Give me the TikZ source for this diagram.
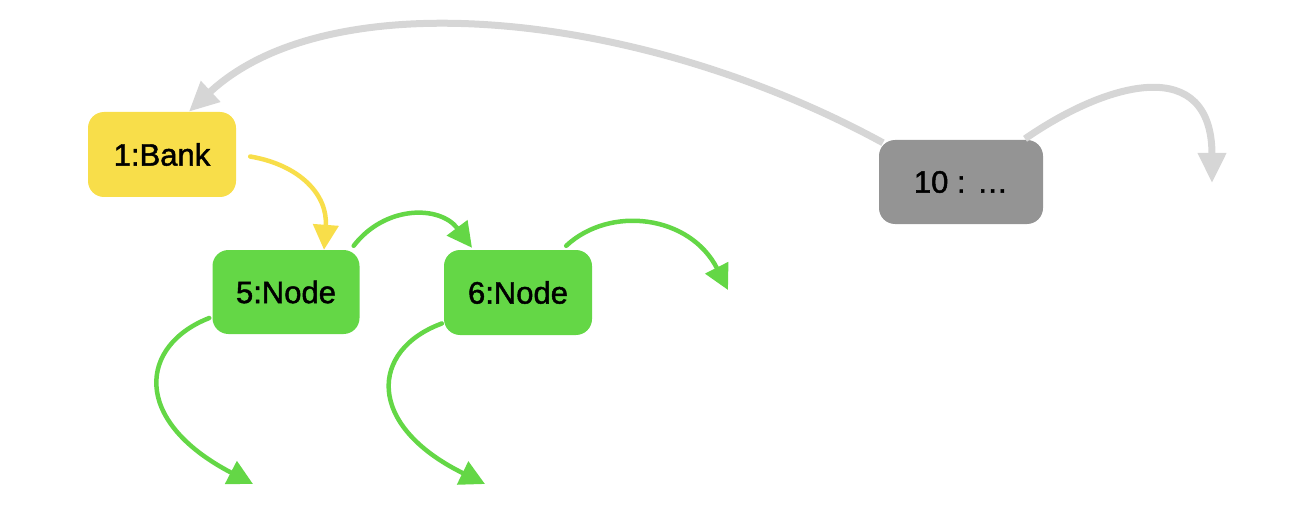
\documentclass[tikz,border=0pt]{standalone}
\usepackage{fontspec}
\setmainfont{Liberation Sans}
\newfontfamily\boxfont[FakeBold=1.5]{Liberation Sans}
\usetikzlibrary{arrows.meta,calc}
\definecolor{bankyellow}{RGB}{248,222,74}
\definecolor{nodegreen}{RGB}{100,215,70}
\definecolor{boxgray}{RGB}{148,148,148}
\definecolor{linkgray}{RGB}{214,214,214}
\begin{document}
\begin{tikzpicture}[x=1pt,y=-1pt,
  box/.style={rounded corners=16pt, inner sep=0pt, font=\boxfont\fontsize{31}{36}\selectfont, text=black},
  graylink/.style={draw=linkgray, line width=7pt, -{Triangle[length=30pt,width=27pt]}},
  greenlink/.style={draw=nodegreen, line width=4.5pt, line cap=round, -{Triangle[length=25pt,width=25pt]}},
  yellowlink/.style={draw=bankyellow, line width=4.5pt, line cap=round, -{Triangle[length=25pt,width=25pt]}}]
\useasboundingbox (0,0) rectangle (1294,508);
\node[box, fill=bankyellow, minimum width=148pt, minimum height=85pt] (bank) at (162,154.5) {1:Bank};
\node[box, fill=nodegreen, minimum width=147pt, minimum height=84pt] (n5) at (286,292) {5:Node};
\node[box, fill=nodegreen, minimum width=148pt, minimum height=85pt] (n6) at (518,292.5) {6:Node};
\node[box, fill=boxgray, minimum width=164pt, minimum height=84pt] (n10) at (961,182) {10 : \ldots};
\coordinate (e6) at (728,290);
\coordinate (e5b) at (253,484);
\coordinate (e6b) at (485,484);
\coordinate (e10) at (1212,183);
% gray links
\draw[graylink] ($(n10.north)+(-78,3)$) .. controls (640,10) and (330,-20) .. ($(bank.north west)+(101,0)$);
\draw[graylink] ($(n10.north)+(64,-1)$) .. controls (1110,80) and (1212,55) .. (e10);
% yellow link
\draw[yellowlink] ($(bank.east)+(14,2)$) .. controls (300,165) and (328,195) .. ($(n5.north)+(38,0)$);
% green links
\draw[greenlink] ($(n5.north east)+(-6,-4)$) .. controls (385,205) and (440,205) .. ($(n6.north)+(-46,-2)$);
\draw[greenlink] ($(n6.north east)+(-26,-4)$) .. controls (610,205) and (690,215) .. (e6);
\draw[greenlink] ($(n5.west)+(-3,26)$) .. controls (140,345) and (130,420) .. (e5b);
\draw[greenlink] ($(n6.west)+(-2,31)$) .. controls (370,350) and (365,425) .. (e6b);
\end{tikzpicture}
\end{document}
